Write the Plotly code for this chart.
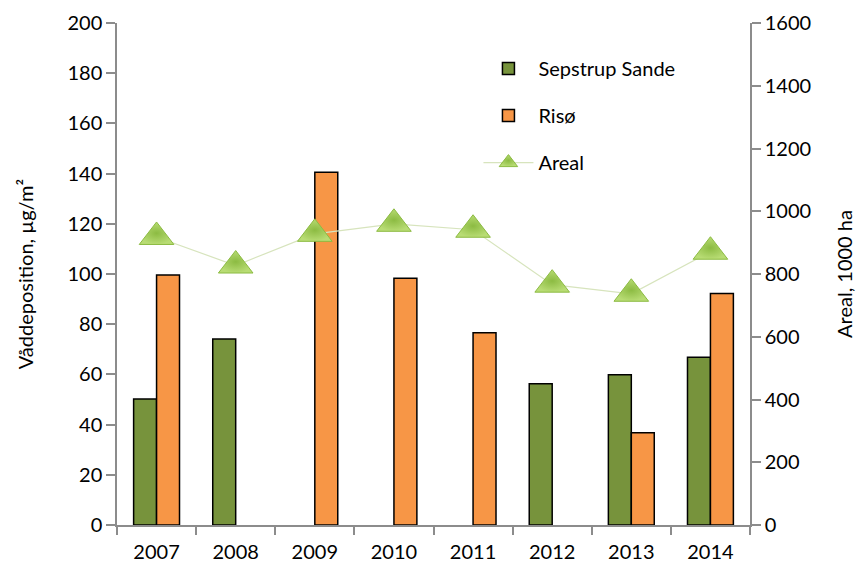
import plotly.graph_objects as go

years = ["2007", "2008", "2009", "2010", "2011", "2012", "2013", "2014"]
sepstrup = [50.2, 74.1, None, None, None, 56.3, 59.9, 66.8]
riso = [99.6, None, 140.5, 98.3, 76.6, None, 36.8, 92.2]
areal = [918, 827, 928, 960, 941, 766, 737, 871]

FONT = "Lato"
AXIS_GREY = "#8c8c8c"

fig = go.Figure()

fig.add_trace(go.Bar(
    x=years, y=sepstrup, name="Sepstrup Sande",
    marker=dict(color="#77933c", line=dict(color="black", width=1.5)),
    legendgroup="a",
))
fig.add_trace(go.Bar(
    x=years, y=riso, name="Risø",
    marker=dict(color="#f79646", line=dict(color="black", width=1.5)),
    legendgroup="b",
))
fig.add_trace(go.Scatter(
    x=years, y=areal, name="Areal", yaxis="y2", mode="lines+markers",
    line=dict(color="#d7e4bd", width=1.2),
    marker=dict(symbol="triangle-up", size=30, color="#b8dc74",
                gradient=dict(type="radial", color="#8cbb42"),
                line=dict(color="#8cbb42", width=1)),
    legendgroup="c",
))

fig.update_layout(
    width=865, height=570,
    margin=dict(l=117, r=115, t=23, b=45),
    paper_bgcolor="white", plot_bgcolor="white",
    font=dict(family=FONT, size=20, color="black"),
    barmode="group", bargap=0.42, bargroupgap=0,
    showlegend=True,
    legend=dict(x=0.571, y=0.948, xanchor="left", yanchor="top",
                bgcolor="rgba(0,0,0,0)", tracegroupgap=18,
                font=dict(family=FONT, size=20), itemwidth=50),
    xaxis=dict(
        type="category", range=[-0.5, 7.5],
        showline=True, linecolor=AXIS_GREY, linewidth=1.5,
        ticks="outside", tickson="boundaries", ticklen=8, tickcolor=AXIS_GREY,
        tickwidth=1.5, showgrid=False, tickfont=dict(size=20),
        ticklabelstandoff=8, automargin=False,
    ),
    yaxis=dict(
        range=[0, 200], dtick=20, showline=True, linecolor=AXIS_GREY, linewidth=1.5,
        ticks="outside", ticklen=9, tickcolor=AXIS_GREY, tickwidth=1.5,
        showgrid=False, zeroline=False, tickfont=dict(size=20), automargin=False,
        title=dict(text="Våddeposition, µg/m²", font=dict(size=20), standoff=28),
    ),
    yaxis2=dict(
        range=[0, 1600], dtick=200, overlaying="y", side="right",
        showline=True, linecolor=AXIS_GREY, linewidth=1.5,
        ticks="outside", ticklen=9, tickcolor=AXIS_GREY, tickwidth=1.5,
        showgrid=False, zeroline=False, tickfont=dict(size=20), automargin=False,
        title=dict(text="Areal, 1000 ha", font=dict(size=20), standoff=28),
    ),
)

fig.write_html("out.html")
